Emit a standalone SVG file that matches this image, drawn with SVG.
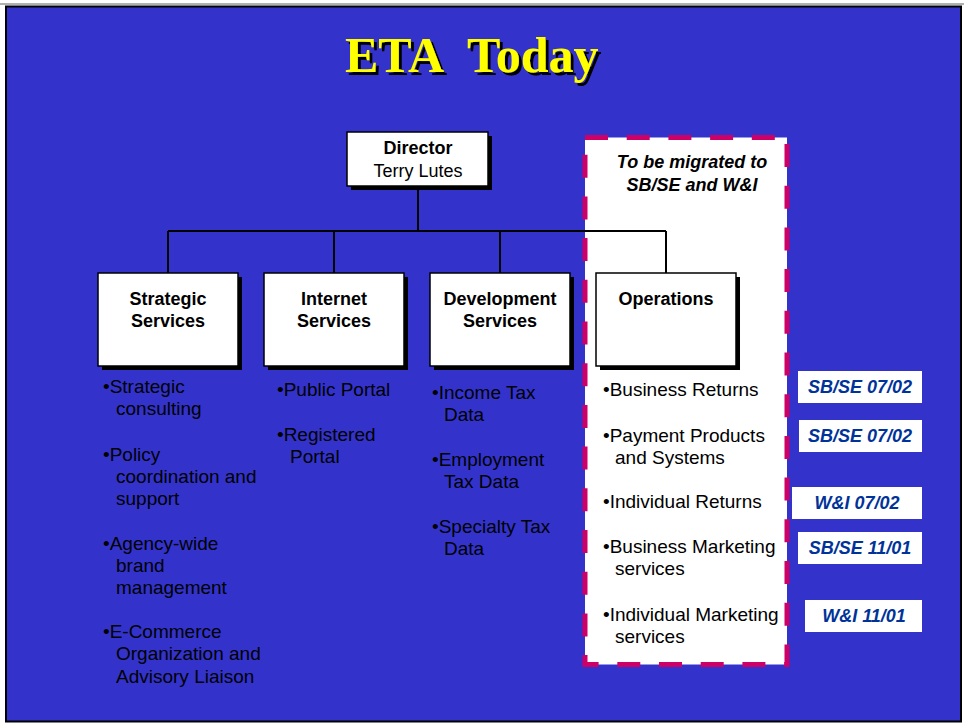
<svg xmlns="http://www.w3.org/2000/svg" width="964" height="724" viewBox="0 0 964 724">
  <defs>
    <filter id="titleShadow" x="-10%" y="-10%" width="120%" height="130%">
      <feDropShadow dx="3" dy="3" stdDeviation="0" flood-color="#000" flood-opacity="1"/>
    </filter>
  </defs>
  <style>
    .box { fill: #ffffff; stroke: #000; stroke-width: 1.5; }
    .shadow { fill: #000; }
    .lbl { font-family: "Liberation Sans", Arial, sans-serif; font-size: 18px; font-weight: bold; fill: #000; text-anchor: middle; }
    .sub { font-family: "Liberation Sans", Arial, sans-serif; font-size: 18px; fill: #000; text-anchor: middle; }
    .item { font-family: "Liberation Sans", Arial, sans-serif; font-size: 19px; fill: #000; }
    .conn { stroke: #000; stroke-width: 2; fill: none; }
    .tag { fill: #ffffff; }
    .tagtxt { font-family: "Liberation Sans", Arial, sans-serif; font-size: 18px; font-weight: bold; font-style: italic; fill: #003399; text-anchor: middle; }
    .mig { font-family: "Liberation Sans", Arial, sans-serif; font-size: 18px; font-weight: bold; font-style: italic; fill: #000; text-anchor: middle; }
  </style>

  <!-- page -->
  <rect x="0" y="0" width="964" height="724" fill="#ffffff"/>
  <rect x="0" y="3" width="964" height="2" fill="#b0b0b0"/>
  <rect x="6" y="6.5" width="955" height="715" fill="#3333CC" stroke="#000" stroke-width="2"/>

  <!-- title -->
  <text x="345" y="72" font-family="'Liberation Serif', 'Times New Roman', serif" font-size="50" font-weight="bold" fill="#FFFF00" filter="url(#titleShadow)">ETA <tspan dx="14">Today</tspan></text>

  <!-- migration area (fill) -->
  <g id="migration-area">
    <rect x="585" y="137.5" width="202" height="527" fill="#ffffff"/>
  </g>

  <!-- connectors -->
  <g id="connectors">
    <line class="conn" x1="418" y1="188" x2="418" y2="231"/>
    <line class="conn" x1="168" y1="231" x2="666" y2="231"/>
    <line class="conn" x1="168" y1="231" x2="168" y2="273"/>
    <line class="conn" x1="334" y1="231" x2="334" y2="273"/>
    <line class="conn" x1="500" y1="231" x2="500" y2="273"/>
    <line class="conn" x1="666" y1="231" x2="666" y2="273"/>
  </g>

  <!-- migration area (dashed border + heading) -->
  <g id="migration-border">
    <rect x="585" y="137.5" width="202" height="527" fill="none" stroke="#CC0066" stroke-width="5" stroke-dasharray="23 18.7"/>
    <text class="mig" x="692" y="168">To be migrated to</text>
    <text class="mig" x="692" y="191">SB/SE and W&amp;I</text>
  </g>

  <!-- Director -->
  <g id="director">
    <rect class="shadow" x="351" y="136" width="141" height="54"/>
    <rect class="box" x="347" y="132" width="141" height="54"/>
    <text class="lbl" x="418" y="154">Director</text>
    <text class="sub" x="418" y="177">Terry Lutes</text>
  </g>

  <!-- Strategic Services -->
  <g id="strategic">
    <rect class="shadow" x="102" y="277" width="140" height="93"/>
    <rect class="box" x="98" y="273" width="140" height="93"/>
    <text class="lbl" x="168" y="305">Strategic</text>
    <text class="lbl" x="168" y="327">Services</text>
    <text class="item" x="103" y="393">•Strategic</text>
    <text class="item" x="116" y="415">consulting</text>
    <text class="item" x="103" y="461">•Policy</text>
    <text class="item" x="116" y="483">coordination and</text>
    <text class="item" x="116" y="505">support</text>
    <text class="item" x="103" y="550">•Agency-wide</text>
    <text class="item" x="116" y="572">brand</text>
    <text class="item" x="116" y="594">management</text>
    <text class="item" x="103" y="638">•E-Commerce</text>
    <text class="item" x="116" y="660">Organization and</text>
    <text class="item" x="116" y="683">Advisory Liaison</text>
  </g>

  <!-- Internet Services -->
  <g id="internet">
    <rect class="shadow" x="268" y="277" width="140" height="93"/>
    <rect class="box" x="264" y="273" width="140" height="93"/>
    <text class="lbl" x="334" y="305">Internet</text>
    <text class="lbl" x="334" y="327">Services</text>
    <text class="item" x="277" y="396">•Public Portal</text>
    <text class="item" x="277" y="441">•Registered</text>
    <text class="item" x="290" y="463">Portal</text>
  </g>

  <!-- Development Services -->
  <g id="development">
    <rect class="shadow" x="434" y="277" width="140" height="93"/>
    <rect class="box" x="430" y="273" width="140" height="93"/>
    <text class="lbl" x="500" y="305">Development</text>
    <text class="lbl" x="500" y="327">Services</text>
    <text class="item" x="432" y="399">•Income Tax</text>
    <text class="item" x="444" y="421">Data</text>
    <text class="item" x="432" y="466">•Employment</text>
    <text class="item" x="444" y="488">Tax Data</text>
    <text class="item" x="432" y="533">•Specialty Tax</text>
    <text class="item" x="444" y="555">Data</text>
  </g>

  <!-- Operations -->
  <g id="operations">
    <rect class="shadow" x="600" y="277" width="140" height="93"/>
    <rect class="box" x="596" y="273" width="140" height="93"/>
    <text class="lbl" x="666" y="305">Operations</text>
    <text class="item" x="603" y="396">•Business Returns</text>
    <text class="item" x="603" y="442">•Payment Products</text>
    <text class="item" x="615" y="464">and Systems</text>
    <text class="item" x="603" y="508">•Individual Returns</text>
    <text class="item" x="603" y="553">•Business Marketing</text>
    <text class="item" x="615" y="575">services</text>
    <text class="item" x="603" y="621">•Individual Marketing</text>
    <text class="item" x="615" y="643">services</text>
  </g>

  <!-- Migration tags -->
  <g id="tag-business-returns">
    <rect class="tag" x="798" y="371" width="124" height="32"/>
    <text class="tagtxt" x="860" y="393">SB/SE 07/02</text>
  </g>
  <g id="tag-payment-products">
    <rect class="tag" x="799" y="420" width="123" height="32"/>
    <text class="tagtxt" x="860" y="442">SB/SE 07/02</text>
  </g>
  <g id="tag-individual-returns">
    <rect class="tag" x="792" y="487" width="130" height="32"/>
    <text class="tagtxt" x="857" y="509">W&amp;I 07/02</text>
  </g>
  <g id="tag-business-marketing">
    <rect class="tag" x="798" y="532" width="124" height="32"/>
    <text class="tagtxt" x="860" y="554">SB/SE 11/01</text>
  </g>
  <g id="tag-individual-marketing">
    <rect class="tag" x="805" y="600" width="117" height="32"/>
    <text class="tagtxt" x="864" y="622">W&amp;I 11/01</text>
  </g>
</svg>
